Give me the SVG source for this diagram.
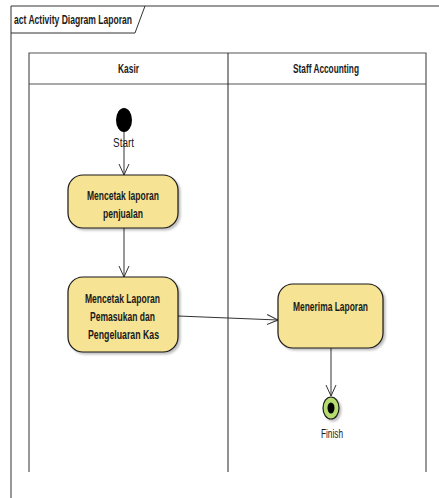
<svg xmlns="http://www.w3.org/2000/svg" width="439" height="498" viewBox="0 0 439 498">
  <defs>
    <marker id="open" viewBox="0 0 12 12" refX="11" refY="6" markerWidth="12" markerHeight="12" markerUnits="userSpaceOnUse" orient="auto">
      <path d="M0,1 L11,6 L0,11" fill="none" stroke="#333" stroke-width="1"/>
    </marker>
    <filter id="shadow" x="-10%" y="-10%" width="130%" height="130%">
      <feDropShadow dx="2" dy="2" stdDeviation="1" flood-color="#000" flood-opacity="0.25"/>
    </filter>
  </defs>
  <style>
    text { font-family: "Liberation Sans", Arial, sans-serif; fill: #1a1a1a; }
    .bold { font-weight: bold; font-size: 12px; }
    .lbl { font-size: 12px; }
    .act { fill: #f6e394; stroke: #1a1a1a; stroke-width: 1.2; filter: url(#shadow); }
    .frame { fill: none; stroke: #333; stroke-width: 1; }
    .lane { fill: none; stroke: #555; stroke-width: 1.2; }
    .flow { fill: none; stroke: #333; stroke-width: 1; marker-end: url(#open); }
  </style>

  <rect width="439" height="498" fill="#fff"/>

  <!-- diagram frame with name tab -->
  <g id="frame">
    <path class="frame" d="M11,498 V6 H439"/>
    <path class="frame" d="M11,33 H135 L145,6"/>
    <text class="bold" x="14" y="24" textLength="118" lengthAdjust="spacingAndGlyphs">act Activity Diagram Laporan</text>
  </g>

  <!-- swimlanes -->
  <g id="lanes">
    <path class="lane" d="M29,472 V53 H426 V472"/>
    <line class="lane" x1="29" y1="84" x2="426" y2="84" stroke="#333"/>
    <line x1="228" y1="53" x2="228" y2="472" stroke="#222" stroke-width="1"/>
    <text class="bold" x="118" y="73" textLength="21" lengthAdjust="spacingAndGlyphs">Kasir</text>
    <text class="bold" x="293" y="73" textLength="66" lengthAdjust="spacingAndGlyphs">Staff Accounting</text>
  </g>

  <!-- connectors -->
  <g id="connectors">
    <line class="flow" x1="124" y1="131" x2="124" y2="175"/>
    <line class="flow" x1="124" y1="228" x2="124" y2="277"/>
    <line class="flow" x1="178" y1="316" x2="278" y2="320"/>
    <line class="flow" x1="331" y1="348" x2="331" y2="396"/>
  </g>

  <g id="start">
    <ellipse cx="124" cy="120" rx="8" ry="12" fill="#000"/>
    <text class="lbl" x="113" y="147" textLength="21" lengthAdjust="spacingAndGlyphs">Start</text>
  </g>

  <g id="cetak-penjualan">
    <rect class="act" x="68" y="175" width="110" height="53" rx="15" ry="15"/>
    <text class="bold" x="87" y="200" textLength="72" lengthAdjust="spacingAndGlyphs">Mencetak laporan</text>
    <text class="bold" x="103" y="218" textLength="40" lengthAdjust="spacingAndGlyphs">penjualan</text>
  </g>

  <g id="cetak-kas">
    <rect class="act" x="68" y="277" width="110" height="75" rx="15" ry="15"/>
    <text class="bold" x="85" y="303" textLength="75" lengthAdjust="spacingAndGlyphs">Mencetak Laporan</text>
    <text class="bold" x="90" y="321" textLength="65" lengthAdjust="spacingAndGlyphs">Pemasukan dan</text>
    <text class="bold" x="88" y="339" textLength="71" lengthAdjust="spacingAndGlyphs">Pengeluaran Kas</text>
  </g>

  <g id="terima">
    <rect class="act" x="278" y="284" width="105" height="64" rx="15" ry="15"/>
    <text class="bold" x="293" y="311" textLength="75" lengthAdjust="spacingAndGlyphs">Menerima Laporan</text>
  </g>

  <g id="finish">
    <ellipse cx="331" cy="408" rx="8" ry="11" fill="#b5dc6e" stroke="#1a1a1a" stroke-width="1.2" filter="url(#shadow)"/>
    <ellipse cx="331" cy="408" rx="3.5" ry="5.5" fill="#000"/>
    <text class="lbl" x="321" y="438" textLength="22" lengthAdjust="spacingAndGlyphs">Finish</text>
  </g>
</svg>
